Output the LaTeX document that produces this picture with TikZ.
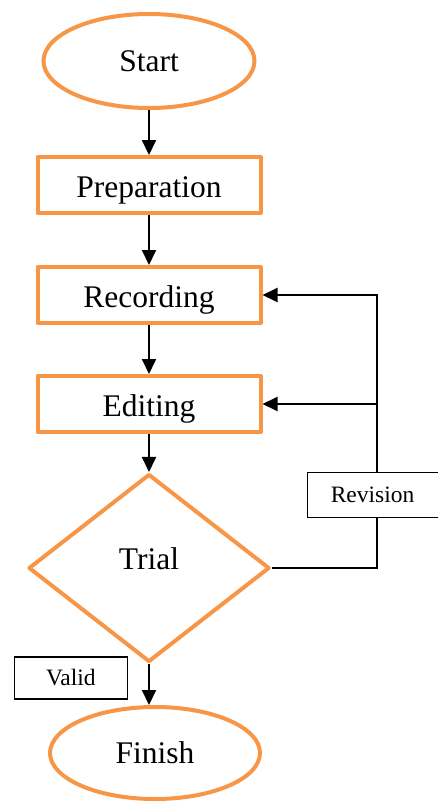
\documentclass[tikz,border=0pt]{standalone}
\usepackage{fontspec}
\setmainfont{Liberation Serif}
\usetikzlibrary{arrows.meta}
\usetikzlibrary{positioning}
\usetikzlibrary{shapes.geometric}
\definecolor{boxorange}{HTML}{F79646}

\tikzset{
  terminal/.style={ellipse, draw=boxorange, line width=4pt, inner sep=0pt,
    font=\fontsize{31.5}{36}\selectfont},
  process/.style={rectangle, draw=boxorange, line width=4pt, line join=round,
    minimum width=223pt, minimum height=56pt, text height=27pt, text depth=2pt,
    font=\fontsize{31.5}{36}\selectfont},
  decision/.style={diamond, draw=boxorange, line width=4pt, line join=round,
    inner sep=0pt, minimum width=241pt, minimum height=188pt,
    text height=12pt, text depth=10pt, font=\fontsize{31.5}{36}\selectfont},
  note/.style={rectangle, draw, line width=1.2pt, fill=white,
    font=\fontsize{23.5}{28}\selectfont},
  flow/.style={-{Triangle[width=14pt,length=15pt]}, line width=2pt},
}

\begin{document}
\begin{tikzpicture}[x=1pt, y=1pt]
    \useasboundingbox (0,0) rectangle (438,-803);

    \node[terminal, minimum width=211pt, minimum height=94pt] (start) at (149,-61) {Start};
    \node[process] (prep) [below=45pt of start] {Preparation};
    \node[process] (rec) [below=50pt of prep] {Recording};
    \node[process] (edit) [below=49pt of rec] {Editing};
    \node[decision] (trial) [below=38pt of edit] {Trial};
    \node[terminal, minimum width=210pt, minimum height=92pt] (finish) [below=41pt of trial, xshift=6pt] {Finish};

    \draw[flow] (start) -- (prep);
    \draw[flow] (prep) -- (rec);
    \draw[flow] (rec) -- (edit);
    \draw[flow] (edit) -- (trial);
    \draw[flow] (trial.south) -- (trial.south |- finish.north);

    % loop back from the trial
    \coordinate[right=105pt of trial.east] (back);
    \draw[flow] (trial.east) -- (back) |- (rec.east);
    \draw[flow] (back |- edit.east) -- (edit.east);

    \node[note, minimum width=131pt, minimum height=45pt] (rev) [right=35pt of trial.east, yshift=73pt] {Revision};
    \node[note, minimum width=113pt, minimum height=42pt] (valid) [left=21pt of trial.south, yshift=-14pt] {Valid};
\end{tikzpicture}
\end{document}
